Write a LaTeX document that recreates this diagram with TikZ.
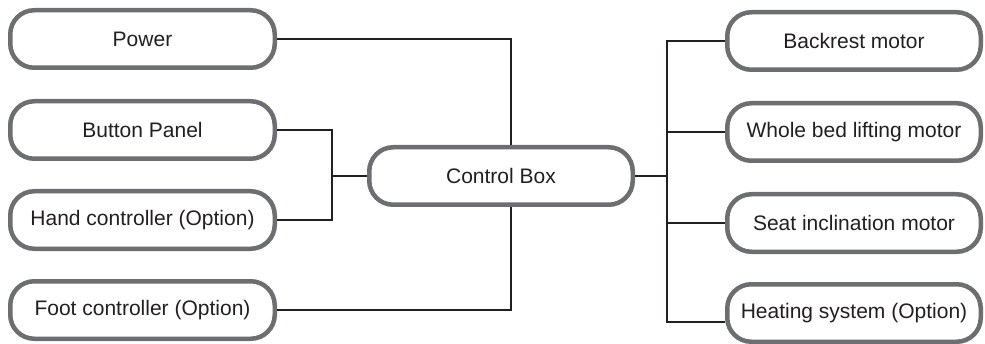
\documentclass[tikz,border=0pt]{standalone}
\usepackage{fontspec}
\setmainfont{Liberation Sans}
\usetikzlibrary{calc}
\definecolor{boxgray}{HTML}{6D6E71}
\definecolor{inkblack}{HTML}{231F20}
\tikzset{
	unitbox/.style={draw=boxgray, line width=4.5pt, rounded corners=24pt, fill=white,
		minimum width=264.5pt, minimum height=57.5pt, inner sep=0pt,
		text=inkblack, font=\fontsize{21}{25}\selectfont},
	wire/.style={draw=inkblack, line width=1.8pt}
}

\begin{document}
\begin{tikzpicture}[x=1pt, y=1pt]
			%%%%% START %%%%%
			\useasboundingbox (0, 0) rectangle (985, 343);
			
			% left column
			\node[unitbox] (power) at (142.5, 304) {Power};
			\node[unitbox] (buttons) at (142.5, 213) {Button Panel};
			\node[unitbox] (hand) at (142.5, 123) {Hand controller (Option)};
			\node[unitbox] (foot) at (142.5, 33) {Foot controller (Option)};
			
			% centre
			\node[unitbox, minimum width=263.5pt] (ctrl) at (501, 167) {Control Box};
			
			% right column
			\node[unitbox, minimum width=253.5pt] (backrest) at (854, 302) {Backrest motor};
			\node[unitbox, minimum width=253.5pt] (lifting) at (854, 211) {Whole bed lifting motor};
			\node[unitbox, minimum width=253.5pt] (seat) at (854, 120) {Seat inclination motor};
			\node[unitbox, minimum width=253.5pt] (heating) at (854, 30) {Heating system (Option)};
			
			\coordinate (bracket) at (332, 0);
			\coordinate (bus) at (667, 0);
			
			% wires left
			\draw[wire] (power.east) -| ([xshift=10pt]ctrl.north);
			\draw[wire] (foot.east) -| ([xshift=10pt]ctrl.south);
			\draw[wire] (buttons.east) -| (bracket |- hand.east) -- (hand.east);
			\draw[wire] (ctrl.west) -- (bracket |- ctrl.west);
			
			% wires right
			\draw[wire] (ctrl.east) -- (bus |- ctrl.east);
			\draw[wire] (backrest.west) -| (bus |- heating.west) |- ([yshift=-9pt]heating.west);
			\draw[wire] (lifting.west) -- (bus |- lifting.west);
			\draw[wire] (seat.west) -- (bus |- seat.west);
			
			%%%%% END %%%%%
\end{tikzpicture}
\end{document}
